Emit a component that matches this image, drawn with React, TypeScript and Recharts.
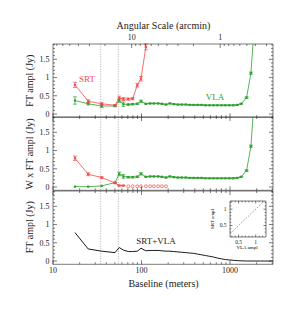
import { ComposedChart, Line, XAxis, YAxis, ReferenceLine, ErrorBar } from "recharts";

const RED = "#f44a4a";
const GREEN = "#2e9f2e";
const GREY = "#9a9a9a";
const INK = "#222";
const FONT = "'Liberation Serif', 'Times New Roman', serif";

// SRT single dish, FT amplitude (Jy) vs baseline (m)
const SRT_BASE = [17.7, 25.0, 35.5, 50.2, 56.0, 62.4, 70.9, 79.4, 89.7, 98.7, 112];
const SRT_AMP = [0.8, 0.35, 0.28, 0.24, 0.44, 0.41, 0.41, 0.42, 0.79, 0.97, 1.84];
const SRT_ERR = [0.07, 0.04, 0.03, 0.02, 0.05, 0.04, 0.03, 0.03, 0.05, 0.06, 0.08];

// VLA interferometer
const VLA_BASE = [
  17.7, 25.0, 35.5, 50.2, 56.0, 62.4, 70.9, 79.4, 89.7, 98.7, 112, 125, 138, 154, 170, 189, 209, 232, 257,
  284, 316, 350, 388, 430, 477, 528, 586, 650, 720, 800, 885, 981, 1088, 1206, 1337, 1539, 1724, 1900,
];
const VLA_AMP = [
  0.37, 0.28, 0.22, 0.22, 0.37, 0.27, 0.26, 0.27, 0.28, 0.35, 0.28, 0.29, 0.29, 0.29, 0.28, 0.26, 0.29, 0.27,
  0.26, 0.26, 0.26, 0.25, 0.25, 0.25, 0.25, 0.24, 0.24, 0.24, 0.24, 0.24, 0.24, 0.24, 0.24, 0.25, 0.28, 0.45,
  1.12, 2.6,
];
const VLA_ERR = [
  0.1, 0.03, 0.04, 0.02, 0.05, 0.06, 0.02, 0.02, 0.02, 0.03, 0.01, 0.01, 0.01, 0.01, 0.01, 0.01, 0.01, 0.01,
  0.01, 0.01, 0.01, 0.01, 0.01, 0.01, 0.01, 0.01, 0.01, 0.01, 0.01, 0.01, 0.01, 0.01, 0.01, 0.01, 0.01, 0.02,
  0.03, null,
];

// weighted amplitudes (middle panel)
const SRT_W_BASE = [17.7, 25.0, 35.5, 50.2, 56.0, 62.4];
const SRT_W_AMP = [0.79, 0.35, 0.26, 0.11, 0.04, 0.04];
const SRT_W_ERR = [0.06, 0.04, 0.02, 0.02, 0.01, 0.01];
const SRT_ZERO_BASE = [70.9, 79.4, 89.7, 98.7, 112, 125, 138, 154, 170, 189];
const SRT_ZERO_AMP = [0.02, 0.02, 0.02, 0.02, 0.02, 0.02, 0.02, 0.02, 0.02, 0.02];
const VLA_W_AMP = [
  0.01, 0.01, 0.03, 0.12, 0.36, 0.29, 0.27, 0.27, 0.28, 0.36, 0.28, 0.29, 0.29, 0.29, 0.28, 0.26, 0.29, 0.27,
  0.26, 0.26, 0.26, 0.25, 0.25, 0.25, 0.25, 0.24, 0.24, 0.24, 0.24, 0.24, 0.24, 0.24, 0.24, 0.25, 0.28, 0.45,
  1.12, 2.6,
];
const VLA_W_ERR = [
  0.0, 0.0, 0.0, 0.01, 0.05, 0.05, 0.02, 0.02, 0.02, 0.03, 0.01, 0.01, 0.01, 0.01, 0.01, 0.01, 0.01, 0.01,
  0.01, 0.01, 0.01, 0.01, 0.01, 0.01, 0.01, 0.01, 0.01, 0.01, 0.01, 0.01, 0.01, 0.01, 0.01, 0.01, 0.01, 0.02,
  0.03, null,
];

// combined SRT+VLA
const COMB_BASE = [
  17.7, 25.0, 35.5, 50.2, 56.0, 62.4, 70.9, 79.4, 89.7, 98.7, 112, 125, 138, 154, 170, 189, 209, 232, 257,
  284, 316, 350, 388, 430, 477, 528, 586, 650, 720, 800, 885, 981, 1088, 1206, 1337, 1539, 1724, 2200, 3060,
];
const COMB_AMP = [
  0.78, 0.33, 0.27, 0.23, 0.37, 0.3, 0.26, 0.26, 0.27, 0.35, 0.28, 0.29, 0.29, 0.29, 0.28, 0.27, 0.27, 0.26,
  0.25, 0.24, 0.23, 0.22, 0.21, 0.19, 0.17, 0.15, 0.13, 0.11, 0.08, 0.06, 0.04, 0.03, 0.02, 0.01, 0.005, 0, 0,
  0, 0,
];

// inset: SRT ampl vs VLA ampl
const INSET_X = [0.25, 1.3];
const INSET_Y = [0.25, 1.3];

const DASHED_BASE = [34.6, 54.7];

const BASE_TICKS = [10, 20, 30, 40, 50, 60, 70, 80, 90, 100, 200, 300, 400, 500, 600, 700, 800, 900, 1000, 2000, 3000];
const BASE_LABELS = [10, 100, 1000];
const ARCMIN_TICKS = [70, 60, 50, 40, 30, 20, 10, 9, 8, 7, 6, 5, 4, 3, 2, 1, 0.9, 0.8, 0.7, 0.6, 0.5, 0.4, 0.3];
const ARCMIN_LABELS = [10, 1];
const ARCMIN_METERS = 774; // arcmin * m
const Y_TICKS = [0, 0.1, 0.2, 0.3, 0.4, 0.5, 0.6, 0.7, 0.8, 0.9, 1, 1.1, 1.2, 1.3, 1.4, 1.5, 1.6, 1.7, 1.8, 1.9];
const Y_LABELS = [0, 0.5, 1, 1.5];
const INSET_TICKS = [0.3, 0.4, 0.5, 0.6, 0.7, 0.8, 0.9, 1, 1.1, 1.2];
const INSET_LABELS = [0.5, 1];

const W = 299;
const PLOT_LEFT = 53;
const PLOT_RIGHT = 273;
const PANEL_TOP = 44;
const PANEL_H = 73.3;
const X_DOMAIN = [10, 3060];
const Y_DOMAIN = [-0.09, 1.92];

const zip = (b: number[], v: number[], e?: (number | null)[]) =>
  b.map((x, i) => ({ b: x, v: v[i], e: e ? e[i] : null }));

const near = (a: number, list: number[]) => list.some((l) => Math.abs(l - a) < 1e-6);

function makeXTick(side: "top" | "bottom", labels: number[], show: boolean, fmt: (v: number) => string, fs = 8, big = 4, small = 2) {
  return (props: any) => {
    const { x, y, payload } = props;
    const major = near(payload.value, labels);
    const len = major ? big : small;
    const dir = side === "bottom" ? -1 : 1;
    return (
      <g>
        <line x1={x} x2={x} y1={y} y2={y + dir * len} stroke={INK} strokeWidth={0.6} />
        {show && major && (
          <text x={x} y={side === "bottom" ? y + fs + 1 : y - 3.5} textAnchor="middle" fontSize={fs} fontFamily={FONT} fill={INK}>
            {fmt(payload.value)}
          </text>
        )}
      </g>
    );
  };
}

function makeYTick(side: "left" | "right", labels: number[], show: boolean, fs = 8, big = 4, small = 2) {
  return (props: any) => {
    const { x, y, payload } = props;
    const major = near(payload.value, labels);
    const len = major ? big : small;
    const dir = side === "left" ? 1 : -1;
    return (
      <g>
        <line x1={x} x2={x + dir * len} y1={y} y2={y} stroke={INK} strokeWidth={0.6} />
        {show && major && (
          <text x={x - 3.5} y={y + fs * 0.35} textAnchor="end" fontSize={fs} fontFamily={FONT} fill={INK}>
            {String(payload.value)}
          </text>
        )}
      </g>
    );
  };
}

const squareDot = (color: string) => (p: any) => (
  <rect key={`d-${p.index}`} x={p.cx - 1.1} y={p.cy - 1.1} width={2.2} height={2.2} fill={color} stroke="none" />
);

const commonAxisProps = {
  tickSize: 0,
  tickMargin: 0,
  tickLine: false,
  interval: 0 as const,
  axisLine: { stroke: INK, strokeWidth: 0.6 },
};

function Axes({ angularTop, xLabels }: { angularTop: boolean; xLabels: boolean }) {
  return (
    <>
      <XAxis
        dataKey="b"
        type="number"
        scale="log"
        domain={X_DOMAIN}
        allowDataOverflow
        ticks={BASE_TICKS}
        height={1}
        {...commonAxisProps}
        tick={makeXTick("bottom", BASE_LABELS, xLabels, (v) => String(v))}
      />
      <XAxis
        xAxisId="top"
        orientation="top"
        dataKey="b"
        type="number"
        scale="log"
        domain={X_DOMAIN}
        allowDataOverflow
        ticks={angularTop ? ARCMIN_TICKS.map((a) => ARCMIN_METERS / a) : BASE_TICKS}
        height={1}
        {...commonAxisProps}
        tick={
          angularTop
            ? makeXTick("top", ARCMIN_LABELS.map((a) => ARCMIN_METERS / a), true, (v) => String(Math.round(ARCMIN_METERS / v)))
            : makeXTick("top", BASE_LABELS, false, (v) => String(v))
        }
      />
      <YAxis type="number" domain={Y_DOMAIN} allowDataOverflow ticks={Y_TICKS} width={1} {...commonAxisProps} tick={makeYTick("left", Y_LABELS, true)} />
      <YAxis
        yAxisId="right"
        orientation="right"
        type="number"
        domain={Y_DOMAIN}
        allowDataOverflow
        ticks={Y_TICKS}
        width={1}
        {...commonAxisProps}
        tick={makeYTick("right", Y_LABELS, false)}
      />
      {DASHED_BASE.map((b) => (
        <ReferenceLine key={b} x={b} stroke={GREY} strokeWidth={0.8} strokeDasharray="1 1.5" />
      ))}
    </>
  );
}

// axes take 1px each, so margins are one less than the plot edges
const margin = (top: number, bottom: number) => ({ top: top - 1, bottom: bottom - 1, left: PLOT_LEFT - 1, right: W - PLOT_RIGHT - 1 });

function TopPanel() {
  return (
    <ComposedChart width={W} height={PANEL_TOP + PANEL_H + 1} margin={margin(PANEL_TOP, 1)}>
      {Axes({ angularTop: true, xLabels: false })}
      <Line data={zip(VLA_BASE, VLA_AMP, VLA_ERR)} dataKey="v" stroke={GREEN} strokeWidth={0.8} dot={squareDot(GREEN)} isAnimationActive={false}>
        <ErrorBar dataKey="e" width={2} stroke={GREEN} strokeWidth={0.7} direction="y" />
      </Line>
      <Line data={zip(SRT_BASE, SRT_AMP, SRT_ERR)} dataKey="v" stroke={RED} strokeWidth={0.8} dot={squareDot(RED)} isAnimationActive={false}>
        <ErrorBar dataKey="e" width={2} stroke={RED} strokeWidth={0.7} direction="y" />
      </Line>
    </ComposedChart>
  );
}

function MiddlePanel() {
  return (
    <ComposedChart width={W} height={PANEL_H + 2} margin={margin(1, 1)}>
      {Axes({ angularTop: false, xLabels: false })}
      <Line data={zip(VLA_BASE, VLA_W_AMP, VLA_W_ERR)} dataKey="v" stroke={GREEN} strokeWidth={0.8} dot={squareDot(GREEN)} isAnimationActive={false}>
        <ErrorBar dataKey="e" width={2} stroke={GREEN} strokeWidth={0.7} direction="y" />
      </Line>
      <Line data={zip(SRT_W_BASE, SRT_W_AMP, SRT_W_ERR)} dataKey="v" stroke={RED} strokeWidth={0.8} dot={squareDot(RED)} isAnimationActive={false}>
        <ErrorBar dataKey="e" width={2} stroke={RED} strokeWidth={0.7} direction="y" />
      </Line>
      <Line
        data={zip(SRT_ZERO_BASE, SRT_ZERO_AMP)}
        dataKey="v"
        stroke="none"
        dot={{ r: 1.5, fill: "#fff", stroke: RED, strokeWidth: 0.7 }}
        isAnimationActive={false}
      />
    </ComposedChart>
  );
}

function BottomPanel() {
  return (
    <ComposedChart width={W} height={PANEL_H + 31} margin={margin(1, 30)}>
      {Axes({ angularTop: false, xLabels: true })}
      <Line data={zip(COMB_BASE, COMB_AMP)} dataKey="v" stroke="#000" strokeWidth={0.9} dot={false} isAnimationActive={false} />
    </ComposedChart>
  );
}

function Inset() {
  const d = INSET_X.map((x, i) => ({ x, y: INSET_Y[i] }));
  const ax = { ...commonAxisProps, axisLine: { stroke: INK, strokeWidth: 0.6 } };
  return (
    <ComposedChart width={70} height={60} margin={{ top: 5, bottom: 17, left: 29, right: 3 }}>
      <XAxis dataKey="x" type="number" domain={[0.25, 1.3]} allowDataOverflow ticks={INSET_TICKS} height={1} {...ax}
        tick={makeXTick("bottom", INSET_LABELS, true, (v) => String(v), 5.5, 2.5, 1.3)} />
      <XAxis xAxisId="t" orientation="top" dataKey="x" type="number" domain={[0.25, 1.3]} allowDataOverflow ticks={INSET_TICKS} height={1} {...ax}
        tick={makeXTick("top", INSET_LABELS, false, (v) => String(v), 5.5, 2.5, 1.3)} />
      <YAxis type="number" domain={[0.15, 1.25]} allowDataOverflow ticks={INSET_TICKS} width={1} {...ax}
        tick={makeYTick("left", INSET_LABELS, true, 5.5, 2.5, 1.3)} />
      <YAxis yAxisId="r" orientation="right" type="number" domain={[0.15, 1.25]} allowDataOverflow ticks={INSET_TICKS} width={1} {...ax}
        tick={makeYTick("right", INSET_LABELS, false, 5.5, 2.5, 1.3)} />
      <Line data={d} dataKey="y" stroke="#444" strokeWidth={0.7} strokeDasharray="1 1.5" dot={false} isAnimationActive={false} />
    </ComposedChart>
  );
}

export default function App() {
  const p2 = PANEL_TOP + PANEL_H;
  const p3 = PANEL_TOP + 2 * PANEL_H;
  const yTitle = (cy: number, label: string) => (
    <text x={31} y={cy} transform={`rotate(-90 31 ${cy})`} textAnchor="middle" dominantBaseline="middle" fontSize={10} fontFamily={FONT} fill={INK}>
      {label}
    </text>
  );
  return (
    <div style={{ position: "absolute", left: 0, top: 0, width: W, height: 310, background: "#fff" }}>
      <div style={{ position: "absolute", left: 0, top: 0 }}>
        <TopPanel />
      </div>
      <div style={{ position: "absolute", left: 0, top: p2 - 1 }}>
        <MiddlePanel />
      </div>
      <div style={{ position: "absolute", left: 0, top: p3 - 1 }}>
        <BottomPanel />
      </div>
      <div style={{ position: "absolute", left: 200, top: 195 }}>
        <Inset />
      </div>
      <svg width={W} height={310} style={{ position: "absolute", left: 0, top: 0, pointerEvents: "none" }}>
        <text x={163.5} y={28.5} textAnchor="middle" fontSize={10} fontFamily={FONT} fill={INK}>Angular Scale (arcmin)</text>
        <text x={163.5} y={286.5} textAnchor="middle" fontSize={10} fontFamily={FONT} fill={INK}>Baseline (meters)</text>
        {yTitle(PANEL_TOP + PANEL_H / 2, "FT ampl (Jy)")}
        {yTitle(p2 + PANEL_H / 2, "W x FT ampl (Jy)")}
        {yTitle(p3 + PANEL_H / 2, "FT ampl (Jy)")}
        <text x={87} y={81.5} textAnchor="middle" fontSize={9} fontFamily={FONT} fill={RED}>SRT</text>
        <text x={215} y={99.5} textAnchor="middle" fontSize={9} fontFamily={FONT} fill={GREEN}>VLA</text>
        <text x={156} y={243.5} textAnchor="middle" fontSize={9} fontFamily={FONT} fill={INK}>SRT+VLA</text>
        <text x={213} y={219} transform="rotate(-90 213 219)" textAnchor="middle" dominantBaseline="middle" fontSize={5} fontFamily={FONT}>SRT ampl</text>
        <text x={247} y={249} textAnchor="middle" fontSize={5} fontFamily={FONT}>VLA ampl</text>
      </svg>
    </div>
  );
}
